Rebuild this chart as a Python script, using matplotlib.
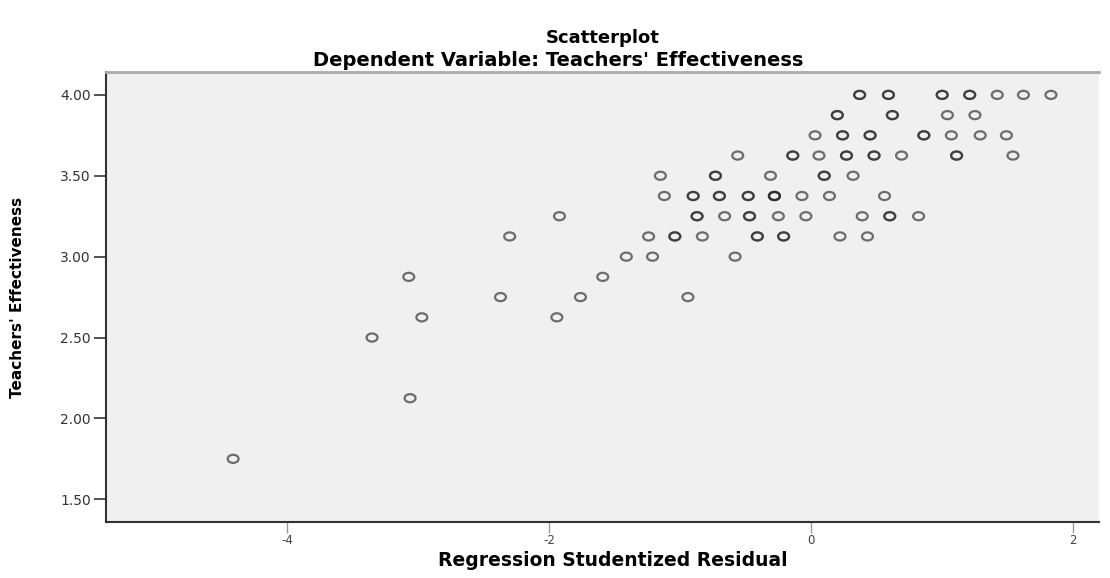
import numpy as np
import matplotlib
matplotlib.use("Agg")
import matplotlib.pyplot as plt
from matplotlib.path import Path
from matplotlib.transforms import Affine2D

# --- data (repeated entries = overlapping cases) ---
resid = [
    # 4.00
    0.37, 0.37, 0.59, 0.59, 1.00, 1.00, 1.21, 1.21, 1.42, 1.62, 1.83,
    # 3.875
    0.20, 0.20, 0.62, 0.62, 1.04, 1.25,
    # 3.75
    0.03, 0.24, 0.24, 0.45, 0.45, 0.86, 0.86, 1.07, 1.29, 1.49,
    # 3.625
    -0.56, -0.14, -0.14, 0.06, 0.27, 0.27, 0.48, 0.48, 0.69, 1.11, 1.11, 1.54,
    # 3.50
    -1.15, -0.73, -0.73, -0.31, 0.10, 0.10, 0.32,
    # 3.375
    -1.12, -0.90, -0.90, -0.70, -0.70, -0.48, -0.48, -0.28, -0.28, -0.28,
    -0.07, 0.14, 0.56,
    # 3.25
    -1.92, -0.87, -0.87, -0.66, -0.47, -0.47, -0.25, -0.04, 0.39, 0.60, 0.60, 0.82,
    # 3.125
    -2.30, -1.24, -1.04, -1.04, -0.83, -0.41, -0.41, -0.21, -0.21, 0.22, 0.43,
    # 3.00
    -1.41, -1.21, -0.58,
    # 2.875
    -3.07, -1.59,
    # 2.75
    -2.37, -1.76, -0.94,
    # 2.625
    -2.97, -1.94,
    # 2.50
    -3.35,
    # 2.125
    -3.06,
    # 1.75
    -4.41,
]
effect = ([4.00] * 11 + [3.875] * 6 + [3.75] * 10 + [3.625] * 12 + [3.50] * 7
          + [3.375] * 13 + [3.25] * 12 + [3.125] * 11 + [3.00] * 3
          + [2.875] * 2 + [2.75] * 3 + [2.625] * 2 + [2.50] + [2.125] + [1.75])

xticks = [-4, -2, 0, 2]
yticks = [1.50, 2.00, 2.50, 3.00, 3.50, 4.00]

# --- figure ---
fig = plt.figure(figsize=(11.1, 5.78), dpi=100)
ax = fig.add_axes([0.0955, 0.097, 0.895, 0.778])
ax.set_facecolor("#f0f0f0")

# slightly flattened open circle like the SPSS marker
ring = Path.unit_circle().transformed(Affine2D().scale(1.35, 1.0))
ax.scatter(resid, effect, marker=ring, s=62, facecolors="none",
           edgecolors=(0.15, 0.15, 0.15, 0.65), linewidths=1.6, zorder=3)

ax.set_xlim(-5.38, 2.2)
ax.set_ylim(1.36, 4.14)
ax.set_xticks(xticks)
ax.set_xticklabels([str(t) for t in xticks])
ax.set_yticks(yticks)
ax.set_yticklabels([f"{t:.2f}" for t in yticks])
ax.tick_params(axis="y", direction="out", length=9, width=1.2, color="#333333",
               labelsize=10, labelcolor="#333333", pad=2)
ax.tick_params(axis="x", direction="out", length=8, width=1.0, color="#999999",
               labelsize=8.5, labelcolor="#444444", pad=1)

for side in ["left", "bottom"]:
    ax.spines[side].set_color("#333333")
    ax.spines[side].set_linewidth(1.5)
ax.spines["top"].set_color("#aaaaaa")
ax.spines["top"].set_linewidth(2)
ax.spines["right"].set_visible(False)

fig.text(603 / 1110, 1 - 38 / 578, "Scatterplot", ha="center", va="center",
         fontsize=13, fontweight="bold")
fig.text(558 / 1110, 1 - 61 / 578, "Dependent Variable: Teachers' Effectiveness",
         ha="center", va="center", fontsize=14, fontweight="bold")
fig.text(613 / 1110, 1 - 560 / 578, "Regression Studentized Residual", ha="center",
         va="center", fontsize=13.5, fontweight="bold")
fig.text(18 / 1110, 1 - 297 / 578, "Teachers' Effectiveness", rotation=90,
         ha="center", va="center", fontsize=11, fontweight="bold",
         family=["Liberation Sans Narrow", "DejaVu Sans"])

fig.savefig("out.png", dpi=100, facecolor="white")
